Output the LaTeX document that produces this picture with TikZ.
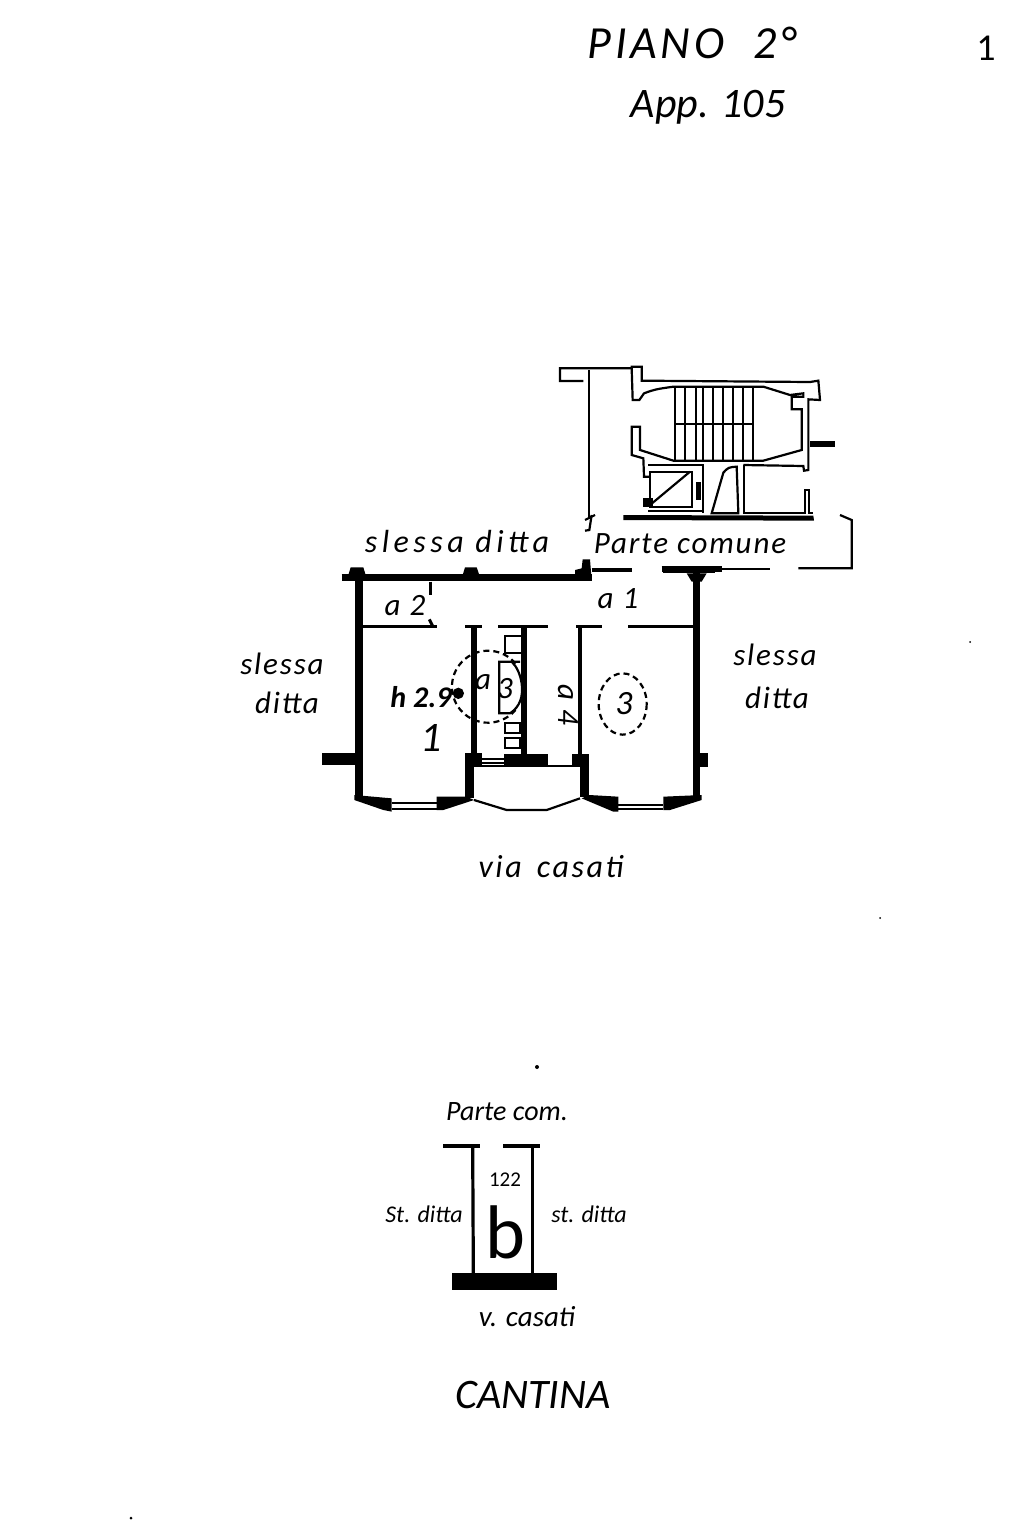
\documentclass[tikz,border=0pt]{standalone}
\usepackage{fontspec}
\setmainfont{Carlito}
\tikzset{
    hand/.style = {inner sep=0pt, font=\itshape\fontsize{13}{13}\selectfont},
    handbig/.style = {inner sep=0pt, font=\itshape\fontsize{21}{21}\selectfont},
    handsmall/.style = {inner sep=0pt, font=\itshape\fontsize{12}{12}\selectfont},
    handmid/.style = {inner sep=0pt, font=\itshape\fontsize{15.5}{15.5}\selectfont\addfontfeature{LetterSpace=6}},
    wall/.style = {line width=3.4pt},
    wallthin/.style = {line width=1.5pt},
    fine/.style = {line width=1.1pt},
    zoomed/.style = {x=0.16667pt, y=-0.16667pt}
}
\begin{document}
\begin{tikzpicture}[x=0.5pt, y=-0.5pt, line join=miter]
\useasboundingbox (0,0) rectangle (1024,1536);

% titles
\node[handbig, font=\itshape\fontsize{23}{23}\selectfont\addfontfeature{LetterSpace=8}] (piano) at (692,43) {PIANO\,\, 2°};
\node[handbig] (app) at (708,107) {App. 105};
\node[handbig, font=\fontsize{19}{19}\selectfont] (sheet) at (986,48) {1};

% stair block
\begin{scope}[shift={(540,350)}, zoomed]
\draw[fine] (130,93) -- (60,93) -- (60,55) -- (275,55) -- (275,50) -- (305,50) -- (305,92)
    -- (810,96) -- (835,92) -- (840,150) -- (805,148) -- (805,360) -- (792,362) -- (790,348) -- (610,345);
\draw[fine] (275,55) -- (278,150) -- (298,150) -- (312,130) .. controls (345,118) .. (400,110) -- (670,110)
    -- (750,135) -- (790,130) -- (790,140) -- (755,140) -- (755,178) -- (785,178) -- (785,300)
    -- (670,332) -- (400,332) -- (300,300) -- (300,230) -- (275,230) -- (275,315) -- (310,325) -- (312,380) -- (330,380);
\foreach \xstep in {405,435,467,490,520,548,578,608,638}
    \draw[fine] (\xstep,110) -- (\xstep,332);
\draw[fine] (405,222) -- (638,222);
% lift
\draw[fine] (325,345) -- (490,345) -- (490,490);
\draw[fine] (330,365) rectangle (455,470);
\draw[fine] (330,465) -- (450,365);
\draw[fine] (325,482) -- (490,482);
\fill (310,445) rectangle (340,472);
\fill (468,395) rectangle (482,450);
% door and closets
\draw[fine] (515,490) -- (550,368) .. controls (565,352) .. (590,350) -- (595,490) -- cycle;
\draw[fine] (612,345) -- (612,490) -- (795,490) -- (795,420) -- (807,420) -- (807,490) -- (820,490);
\fill (250,495) -- (820,497) -- (822,512) -- (250,510) -- cycle;
\fill (810,272) rectangle (885,290);
% long line and corner
\draw[line width=1pt] (148,60) -- (148,500);
\draw[fine] (135,510) -- (165,495);
\draw[fine] (155,495) -- (148,540) -- (135,542);
\draw[fine] (900,495) -- (935,510) -- (935,655) -- (775,655);
\draw[line width=3pt] (365,658) -- (545,658);
\draw[fine] (545,656) -- (690,656);
\end{scope}

% apartment
\begin{scope}[shift={(320,550)}, zoomed]
\draw[wall] (65,82) -- (815,82);
\fill (85,75) -- (92,52) -- (130,52) -- (137,75) -- cycle;
\fill (428,75) -- (435,52) -- (470,52) -- (478,75) -- cycle;
\fill (765,92) -- (765,60) -- (785,55) -- (788,28) -- (810,28) -- (815,92) -- cycle;
\draw[line width=2pt] (815,60) -- (935,60);
\draw[line width=2.4pt] (1028,62) -- (1185,62);
\fill (1100,70) -- (1160,70) -- (1145,95) -- (1115,95) -- cycle;
% outer walls
\draw[line width=4pt] (117,82) -- (117,745);
\draw[line width=3.4pt] (1130,70) -- (1130,745);
\fill (5,610) rectangle (105,645);
\fill (1135,610) rectangle (1165,650);
% partitions
\draw[wallthin] (130,228) -- (350,228);
\draw[wallthin] (435,228) -- (485,228);
\draw[wallthin] (535,228) -- (685,228);
\draw[wallthin] (768,228) -- (845,228);
\draw[wallthin] (925,228) -- (1120,228);
\draw[wallthin] (330,95) -- (330,135);
\draw[wallthin] (328,208) -- (338,228);
\draw[line width=2.6pt] (462,228) -- (462,612);
\draw[line width=3pt] (612,228) -- (612,612);
\draw[line width=2pt] (780,228) -- (780,612);
% bottom blocks
\fill (435,610) rectangle (485,650);
\fill (552,612) rectangle (685,645);
\fill (755,612) rectangle (808,650);
\fill (435,650) rectangle (462,745);
\fill (780,650) rectangle (808,740);
\draw[fine] (485,628) -- (552,628);
\draw[fine] (485,640) -- (552,640);
\draw[fine] (485,648) -- (755,648);
% left bay
\fill (103,735) -- (215,745) -- (215,785) -- (190,780) -- (103,750) -- cycle;
\fill (350,740) -- (440,740) -- (462,750) -- (370,780) -- (350,780) -- cycle;
\draw[fine] (215,760) -- (350,760);
\draw[fine] (215,778) -- (350,778);
% right bay
\fill (808,735) -- (895,740) -- (895,785) -- (880,785) -- (785,745) -- cycle;
\fill (1030,740) -- (1145,735) -- (1145,750) -- (1050,780) -- (1030,780) -- cycle;
\draw[fine] (895,765) -- (1030,765);
\draw[fine] (895,778) -- (1030,778);
% balcony
\draw[fine] (462,750) -- (560,780) -- (680,780) -- (780,745);
% bathroom fixtures
\draw[fine] (555,258) rectangle (605,310);
\draw[fine] (600,335) -- (538,335) -- (538,490) -- (570,490) .. controls (600,470) and (610,440) .. (605,400) .. controls (600,370) and (590,350) .. (575,335);
\draw[fine] (555,520) rectangle (600,550);
\draw[fine] (555,565) rectangle (600,595);
\draw[fine, densely dashed] (510,405) ++(-40:100) arc[start angle=-40, end angle=-320, radius=108];
\fill (415,430) circle[radius=17];
\draw[fine, densely dashed] (908,462) ellipse[x radius=72, y radius=92];
\end{scope}

% labels of the apartment
\node[handmid, font=\itshape\fontsize{16}{16}\selectfont\addfontfeature{LetterSpace=14}] (slessatop) at (457,542) {slessa ditta};
\node[handmid] (partecomune) at (690,544) {Parte comune};
\node[handmid] (leftone) at (282,664) {slessa};
\node[handmid] (lefttwo) at (287,703) {ditta};
\node[handmid] (rightone) at (775,655) {slessa};
\node[handmid] (righttwo) at (777,698) {ditta};
\node[handmid] (atwo) at (405,606) {a 2};
\node[handmid] (aone) at (618,599) {a 1};
\node[handmid, font=\bfseries\itshape\fontsize{15}{15}\selectfont] (height) at (421,697) {h 2.9};
\node[handbig] (roomone) at (431,738) {1};
\node[handmid] (athree) at (483,682) {a};
\node[handmid] (sthree) at (505,689) {3};
\node[handmid, rotate=-90] (afour) at (568,705) {a 4};
\node[handbig, font=\itshape\fontsize{17}{17}\selectfont] (roomthree) at (624,704) {3};
\node[handmid, font=\itshape\fontsize{16}{16}\selectfont\addfontfeature{LetterSpace=8}] (via) at (551,867) {via\, casati};

% cantina
\begin{scope}[shift={(360,1090)}, zoomed]
\draw[line width=1.7pt] (250,168) -- (360,168);
\draw[line width=1.7pt] (430,168) -- (540,168);
\draw[line width=1.6pt] (338,168) -- (340,550);
\draw[line width=1.6pt] (518,168) -- (518,550);
\fill (275,550) rectangle (590,600);
\end{scope}
\node[hand, font=\itshape\fontsize{14}{14}\selectfont] (partecom) at (507,1112) {Parte com.};
\node[handsmall, font=\fontsize{10.5}{10.5}\selectfont] (number) at (505,1180) {122};
\node[hand, font=\fontsize{38}{38}\selectfont] (cellar) at (505,1232) {b};
\node[handsmall] (stleft) at (424,1214) {St. ditta};
\node[handsmall] (stright) at (589,1214) {st. ditta};
\node[hand, font=\itshape\fontsize{14.5}{14.5}\selectfont] (vcasati) at (527,1317) {v. casati};
\node[handbig] (cantina) at (533,1395) {CANTINA};

% specks of the scan
\fill (537,1067) circle[radius=2];
\fill (131,1518) circle[radius=1.5];
\fill (970,642) circle[radius=1];
\fill (880,918) circle[radius=1];
\end{tikzpicture}
\end{document}
